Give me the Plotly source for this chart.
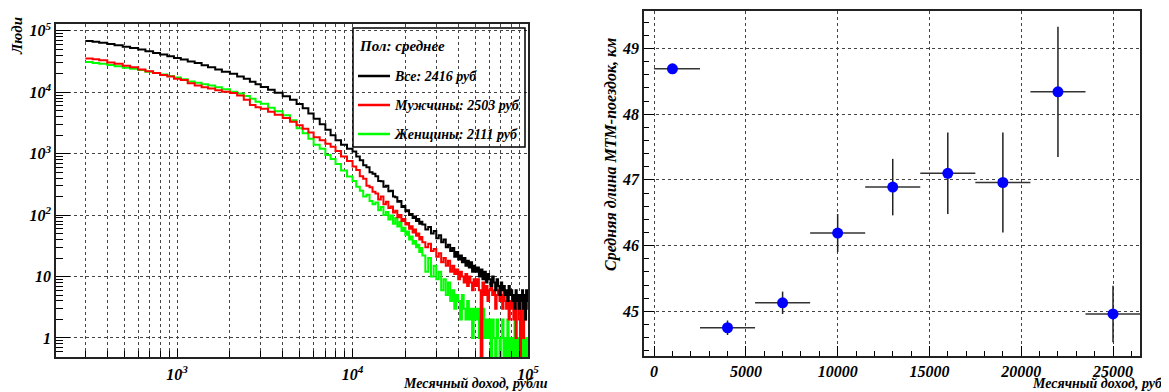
import plotly.graph_objects as go

# ---------------- left panel: income distribution histograms ----------------
income_edges = ([300, 330, 360, 400, 440, 490, 540, 600, 660, 730, 800, 880, 960, 1050, 1150,
                 1260, 1380, 1500, 1650, 1800, 2000, 2200, 2400, 2600, 2800, 3000, 3300, 3600,
                 4000, 4400, 4800, 5200, 5600, 6000, 6500, 7000, 7500, 8000, 8600, 9300]
                + list(range(10000, 25000, 500))
                + list(range(25000, 50000, 1000))
                + list(range(50000, 100000, 1250)))
income_max = 100000

people_all = [
    68000, 66000, 64000, 61000, 58000, 55000, 52500, 49500, 46500, 43500,
    41000, 38500, 36000, 34000, 31500, 30000, 27500, 25500, 23500, 21500,
    20000, 18000, 16500, 14800, 13500, 12200, 11000, 9800, 8600, 7500,
    6400, 5500, 4500, 3700, 3000, 2450, 2000, 1650, 1400, 1200,
    1080, 900, 780, 650, 600, 500, 470, 430, 360, 355,
    290, 300, 245, 250, 200, 195, 165, 170, 135, 140,
    115, 120, 100, 104, 90, 95, 80, 86, 72, 78,
    70, 58, 64, 50, 55, 42, 47, 36, 40, 30,
    33, 26, 29, 21, 25, 19, 22, 17, 20, 15,
    18, 14, 17, 12, 15,
    12, 14, 10, 13, 9, 12, 8, 11, 9, 7,
    10, 8, 6, 9, 7, 5, 8, 6, 7, 5,
    6, 4, 7, 5, 6, 4, 5, 3, 6, 4,
    5, 3, 5, 4, 6, 3, 5, 2, 6, 4,
]

people_men = [
    35500, 34500, 33000, 30500, 29000, 27000, 25500, 23500, 22000, 20500,
    19000, 18000, 16500, 15800, 14000, 12800, 12000, 11500, 10800, 10200,
    9700, 8800, 7500, 6200, 5700, 5400, 4800, 4300, 3800, 3300,
    2900, 2550, 2200, 1850, 1650, 1450, 1300, 1100, 900, 760,
    620, 540, 430, 390, 300, 285, 240, 225, 180, 200,
    150, 165, 130, 138, 110, 118, 92, 100, 80, 86,
    70, 74, 60, 66, 52, 58, 46, 50, 40, 44,
    36, 30, 34, 26, 28, 21, 24, 17, 20, 15,
    18, 12, 15, 11, 13, 9, 12, 10, 8, 11,
    7, 10, 8, 6, 9,
    7, 9, 6, 0, 8, 5, 7, 4, 6, 8,
    5, 6, 3, 5, 6, 4, 5, 3, 6, 4,
    3, 5, 2, 4, 3, 5, 2, 4, 1, 3,
    4, 2, 0, 4, 3, 1, 4, 2, 5, 3,
]

people_women = [
    31000, 30000, 29000, 27800, 26500, 25000, 24000, 23000, 21500, 20500,
    19500, 18300, 17300, 16300, 15000, 14200, 13500, 12800, 12000, 11200,
    10200, 9500, 8700, 7800, 7000, 6500, 5600, 4900, 4200, 3500,
    2600, 2150, 1750, 1400, 1200, 950, 820, 680, 530, 425,
    360, 290, 250, 200, 215, 170, 150, 160, 120, 135,
    100, 112, 85, 98, 72, 90, 65, 78, 55, 62,
    48, 54, 40, 45, 34, 38, 30, 33, 25, 29,
    22, 12, 20, 10, 15, 9, 12, 6, 9, 5,
    8, 4, 6, 3, 5, 4, 2, 5, 3, 2,
    4, 2, 3, 1, 3,
    2, 3, 1, 2, 3, 1, 2, 1, 2, 0,
    2, 1, 0, 2, 1, 0, 1, 2, 0, 1,
    0, 2, 0, 1, 0, 1, 0, 2, 0, 1,
    0, 1, 0, 1, 0, 2, 0, 1, 0, 1,
]

legend_header = "Пол: среднее"
legend_labels = ["Все: 2416 руб", "Мужчины: 2503 руб", "Женщины: 2111 руб"]
legend_colors = ["#000000", "#ff0000", "#00ff00"]

# ---------------- right panel: mean trip length vs income ----------------
income_bin_center = [1000, 4000, 7000, 10000, 13000, 16000, 19000, 22000, 25000]
income_err_minus = [1000, 1500, 1500, 1500, 1500, 1500, 1500, 1500, 1500]
income_err_plus = [1500, 1500, 1500, 1500, 1500, 1500, 1500, 1500, 1500]
trip_length = [48.69, 44.75, 45.13, 46.19, 46.89, 47.10, 46.96, 48.34, 44.96]
trip_length_err = [0.04, 0.11, 0.17, 0.29, 0.43, 0.62, 0.76, 0.99, 0.43]

# page body has an 8px default margin: the figure is sized to fill the rest of the window
OFF = 8
W, H = 1169 - OFF, 392 - OFF
SERIF = "Liberation Serif"


def fnt(size, color="black"):
    return dict(family=SERIF, size=size, color=color, weight="bold", style="italic")


def px_x(p):
    return (p - OFF) / W


def px_y(p):
    return 1 - (p - OFF) / H


fig = go.Figure()

xs = income_edges + [income_max]
draw_order = [(people_women, legend_colors[2]), (people_men, legend_colors[1]), (people_all, legend_colors[0])]
for counts, col in draw_order:
    ys = [c if c > 0 else 0.3 for c in counts]
    ys = ys + [ys[-1]]
    fig.add_trace(go.Scatter(x=xs, y=ys, mode="lines", line=dict(color=col, width=2, shape="hv"),
                             xaxis="x", yaxis="y", showlegend=False, hoverinfo="skip"))

fig.add_trace(go.Scatter(
    x=income_bin_center, y=trip_length, mode="markers",
    marker=dict(color="#0000ff", size=11),
    error_x=dict(type="data", symmetric=False, array=income_err_plus, arrayminus=income_err_minus,
                 color="#333333", thickness=1.5, width=0),
    error_y=dict(type="data", array=trip_length_err, color="#222222", thickness=1.5, width=0),
    xaxis="x2", yaxis="y2", showlegend=False))

grid = dict(showgrid=True, gridcolor="#444444", griddash="dot", gridwidth=1)
frame = dict(showline=True, mirror=True, linecolor="#222222", linewidth=1.5, zeroline=False,
             automargin=False)

fig.update_layout(
    template="none",
    width=W, height=H, margin=dict(l=0, r=0, t=0, b=0, pad=0),
    paper_bgcolor="white", plot_bgcolor="white", showlegend=False,
    xaxis=dict(type="log", range=[2.31, 5.0], domain=[px_x(56), px_x(528)], anchor="y",
               tickvals=[1e3, 1e4, 1e5], ticktext=["10<sup>3</sup>", "10<sup>4</sup>", "10<sup>5</sup>"],
               ticks="inside", ticklen=8, tickcolor="black", tickfont=fnt(16), ticklabelstandoff=2,
               minor=dict(ticks="inside", ticklen=6, tickcolor="black", dtick="D1",
                          showgrid=True, gridcolor="#444444", griddash="dot"),
               **grid, **frame),
    yaxis=dict(type="log", range=[-0.31, 5.11], domain=[px_y(357), px_y(24)], anchor="x",
               tickvals=[1, 10, 100, 1e3, 1e4, 1e5],
               ticktext=["1", "10", "10<sup>2</sup>", "10<sup>3</sup>", "10<sup>4</sup>", "10<sup>5</sup>"],
               ticks="inside", ticklen=14, tickcolor="black", tickfont=fnt(16),
               minor=dict(ticks="inside", ticklen=7, tickcolor="black", dtick="D1", showgrid=False),
               **grid, **frame),
    xaxis2=dict(range=[-550, 26470], domain=[px_x(644), px_x(1140)], anchor="y2",
                tick0=0, dtick=5000, tickformat="d", ticks="inside", ticklen=10, tickcolor="black",
                tickfont=fnt(16), ticklabelstandoff=0,
                minor=dict(ticks="inside", ticklen=5, tickcolor="black", dtick=1000, showgrid=False),
                **grid, **frame),
    yaxis2=dict(range=[44.32, 49.57], domain=[px_y(356), px_y(11)], anchor="x2",
                tick0=45, dtick=1, ticks="inside", ticklen=10, tickcolor="black", tickfont=fnt(16),
                minor=dict(ticks="inside", ticklen=5, tickcolor="black", dtick=0.2, showgrid=False),
                **grid, **frame),
)

annotations = [
    dict(text="Люди", x=px_x(17), y=px_y(15), xref="paper", yref="paper", textangle=-90,
         xanchor="center", yanchor="top", showarrow=False, font=fnt(15)),
    dict(text="Месячный доход, рубли", x=px_x(550), y=px_y(383), xref="paper", yref="paper",
         xanchor="right", yanchor="middle", showarrow=False, font=fnt(14)),
    dict(text="Средняя длина МТМ-поездок, км", x=px_x(611), y=px_y(155), xref="paper", yref="paper",
         textangle=-90, xanchor="center", yanchor="middle", showarrow=False, font=fnt(16)),
    dict(text="Месячный доход, руб", x=px_x(1165), y=px_y(383), xref="paper", yref="paper",
         xanchor="right", yanchor="middle", showarrow=False, font=fnt(14)),
    dict(text=legend_header, x=px_x(357), y=px_y(46), xref="paper", yref="paper",
         xanchor="left", yanchor="middle", showarrow=False, font=fnt(15)),
]
shapes = [
    dict(type="rect", xref="paper", yref="paper", x0=px_x(353), x1=px_x(525), y0=px_y(147), y1=px_y(28),
         line=dict(color="black", width=1.5), fillcolor="rgba(0,0,0,0)"),
]
legend_rows = [76, 105, 134]
for lab, col, yy in zip(legend_labels, legend_colors, legend_rows):
    shapes.append(dict(type="line", xref="paper", yref="paper", x0=px_x(358), x1=px_x(390),
                       y0=px_y(yy), y1=px_y(yy), line=dict(color=col, width=2.5)))
    annotations.append(dict(text=lab, x=px_x(392), y=px_y(yy), xref="paper", yref="paper",
                            xanchor="left", yanchor="middle", showarrow=False, font=fnt(14)))

fig.update_layout(annotations=annotations, shapes=shapes)
fig.write_html("out.html")
